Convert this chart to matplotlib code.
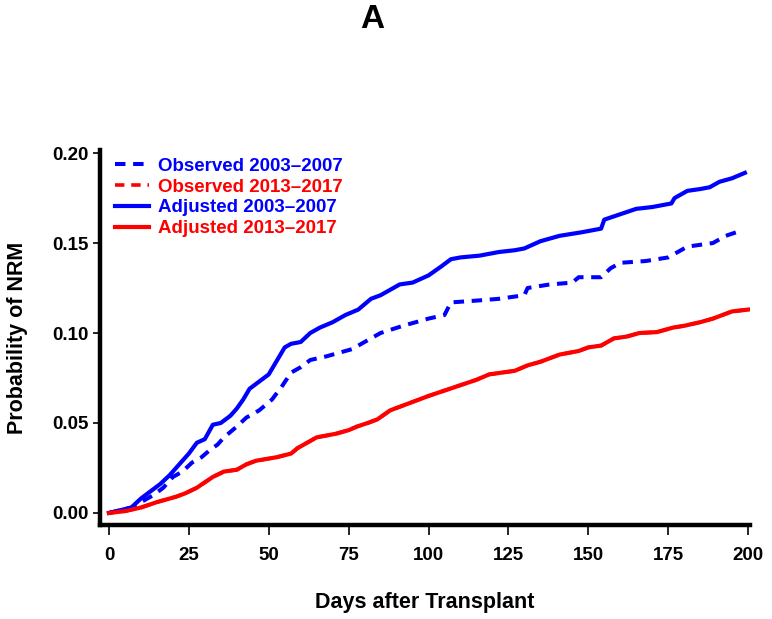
import matplotlib
matplotlib.use('Agg')
import matplotlib.pyplot as plt

plt.rcParams['font.family'] = ['Liberation Sans', 'DejaVu Sans']

# values (days, probability of NRM)
adj_early_days = [0, 7, 10, 13, 16, 19, 23, 25, 27.5, 30, 32.5, 35, 38, 40, 42, 44, 47, 50, 53, 55, 57, 60, 63,
                  66, 70, 74, 78, 82, 85, 88, 91, 95, 100, 104, 107, 110, 116, 122, 127, 130, 135, 141, 148,
                  154, 155, 160, 165, 170, 176, 177, 181, 185, 188, 191, 195, 199]
adj_early = [0.0, 0.003, 0.008, 0.012, 0.016, 0.021, 0.029, 0.033, 0.039, 0.041, 0.049, 0.050, 0.054, 0.058,
             0.063, 0.069, 0.073, 0.077, 0.086, 0.092, 0.094, 0.095, 0.100, 0.103, 0.106, 0.110, 0.113, 0.119,
             0.121, 0.124, 0.127, 0.128, 0.132, 0.137, 0.141, 0.142, 0.143, 0.145, 0.146, 0.147, 0.151, 0.154,
             0.156, 0.158, 0.163, 0.166, 0.169, 0.170, 0.172, 0.175, 0.179, 0.180, 0.181, 0.184, 0.186, 0.189]

obs_early_days = [0, 7, 10, 14, 17, 20, 23, 26, 29, 31.6, 34, 36, 40, 43, 47, 51, 54, 57, 60, 63, 68, 72, 76,
                  79, 82, 85, 92, 100, 105, 107, 115, 122, 130, 131, 138, 145, 147, 154, 157, 160, 168, 175,
                  178, 181, 189, 193, 198]
obs_early = [0.0, 0.003, 0.006, 0.010, 0.014, 0.020, 0.023, 0.028, 0.031, 0.035, 0.038, 0.042, 0.048, 0.053,
             0.057, 0.063, 0.070, 0.078, 0.081, 0.085, 0.087, 0.089, 0.091, 0.094, 0.097, 0.100, 0.104, 0.108,
             0.110, 0.117, 0.118, 0.119, 0.121, 0.125, 0.127, 0.128, 0.131, 0.131, 0.136, 0.139, 0.140, 0.142,
             0.145, 0.148, 0.150, 0.154, 0.157]

adj_late_days = [0, 5, 10, 15, 21, 24, 27.5, 30, 32.5, 36, 40, 43, 46, 52.6, 57, 59, 61, 65, 68, 71, 75, 77.6,
                 81, 84, 88, 91, 94, 97, 100, 105, 110, 115, 119, 123, 127, 131, 135, 141, 147, 150, 154, 158,
                 162, 166, 171.5, 176.5, 180, 185, 189, 192, 195, 200]
adj_late = [0.0, 0.001, 0.003, 0.006, 0.009, 0.011, 0.014, 0.017, 0.020, 0.023, 0.024, 0.027, 0.029, 0.031,
            0.033, 0.036, 0.038, 0.042, 0.043, 0.044, 0.046, 0.048, 0.050, 0.052, 0.057, 0.059, 0.061, 0.063,
            0.065, 0.068, 0.071, 0.074, 0.077, 0.078, 0.079, 0.082, 0.084, 0.088, 0.090, 0.092, 0.093, 0.097,
            0.098, 0.100, 0.1005, 0.103, 0.104, 0.106, 0.108, 0.110, 0.112, 0.113]

# observed 2013-2017 lies right under the adjusted curve in the reference
obs_late_days = [0, 5, 10, 15, 21, 24, 27.5, 30, 32.5, 36, 40, 43, 46, 52.6, 57, 59, 61, 65, 68, 71, 75, 77.6,
                 81, 84, 88, 91, 94, 97, 100, 105, 110, 115, 119, 123, 127, 131, 135, 141, 147, 150, 154, 158,
                 162, 166, 171.5, 176.5, 180, 185, 189, 192, 195, 200]
obs_late = [0.0, 0.001, 0.003, 0.006, 0.009, 0.011, 0.014, 0.017, 0.020, 0.023, 0.024, 0.027, 0.029, 0.031,
            0.033, 0.036, 0.038, 0.042, 0.043, 0.044, 0.046, 0.048, 0.050, 0.052, 0.057, 0.059, 0.061, 0.063,
            0.065, 0.068, 0.071, 0.074, 0.077, 0.078, 0.079, 0.082, 0.084, 0.088, 0.090, 0.092, 0.093, 0.097,
            0.098, 0.100, 0.1005, 0.103, 0.104, 0.106, 0.108, 0.110, 0.112, 0.113]

labels = ['Observed 2003\u20132007', 'Observed 2013\u20132017', 'Adjusted 2003\u20132007', 'Adjusted 2013\u20132017']
x_ticks = [0, 25, 50, 75, 100, 125, 150, 175, 200]
y_ticks = [0.00, 0.05, 0.10, 0.15, 0.20]

fig = plt.figure(figsize=(7.72, 6.19), dpi=100)
ax = fig.add_axes([100 / 772, 1 - 525 / 619, 650 / 772, 375 / 619])

dash = (2.6, 1.9)
l1, = ax.plot(obs_early_days, obs_early, color='#0000ff', lw=2.9, ls=(0, dash))
l2, = ax.plot(obs_late_days, obs_late, color='#ff0000', lw=2.6, ls=(0, dash))
l3, = ax.plot(adj_early_days, adj_early, color='#0000ff', lw=3.0)
l4, = ax.plot(adj_late_days, adj_late, color='#ff0000', lw=3.0)

ax.set_xlim(-2.8, 200.6)
ax.set_ylim(-0.0067, 0.2017)
ax.set_xticks(x_ticks)
ax.set_yticks(y_ticks)
ax.set_yticklabels(['%.2f' % v for v in y_ticks])

for s in ['top', 'right']:
    ax.spines[s].set_visible(False)
for s in ['left', 'bottom']:
    ax.spines[s].set_linewidth(3.2)
ax.tick_params(axis='x', length=7, width=1.2, direction='out', pad=9, labelsize=13.5)
ax.tick_params(axis='y', length=5, width=1.2, direction='out', pad=3, labelsize=13.5)
for t in ax.get_xticklabels() + ax.get_yticklabels():
    t.set_fontweight('bold')

ax.set_xlabel('Days after Transplant', fontsize=15.5, fontweight='bold', labelpad=20)
ax.set_ylabel('Probability of NRM', fontsize=15.5, fontweight='bold', labelpad=18)

leg = ax.legend([l1, l2, l3, l4], labels, loc='upper left', bbox_to_anchor=(0.012, 1.0),
                frameon=False, handlelength=1.8, handletextpad=0.5, labelspacing=0.2,
                prop={'size': 13.5, 'weight': 'bold'}, borderaxespad=0)
for txt, ln in zip(leg.get_texts(), [l1, l2, l3, l4]):
    txt.set_color(ln.get_color())

fig.text(372 / 772, 1 - 19 / 619, 'A', ha='center', va='center', fontsize=24, fontweight='bold')

fig.savefig('out.png', dpi=100)
